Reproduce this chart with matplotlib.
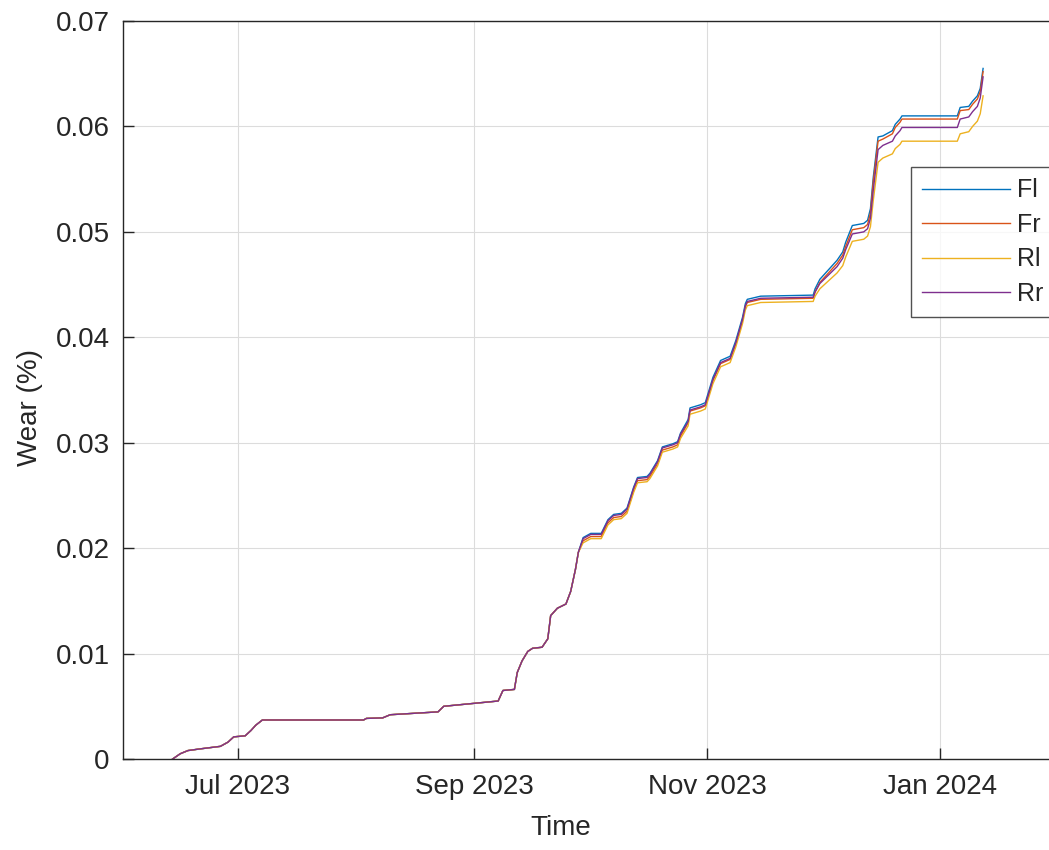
#!/usr/bin/python3

# wear vs time for the four positions (Fl, Fr, Rl, Rr), MATLAB-like look

import matplotlib
matplotlib.use('Agg')
import matplotlib.pyplot as plt
import matplotlib.dates as mdates
import matplotlib.ticker as mticker
import pandas as pd

# sample times (shared by all four series)
times = [
    '2023-06-14', '2023-06-16', '2023-06-18', '2023-06-21', '2023-06-26 12:00',
    '2023-06-28 12:00', '2023-06-30', '2023-07-03', '2023-07-04 12:00', '2023-07-05 18:00',
    '2023-07-07 12:00', '2023-08-03', '2023-08-03 18:00', '2023-08-08', '2023-08-10',
    '2023-08-22 12:00', '2023-08-24', '2023-09-07 06:00', '2023-09-08 12:00', '2023-09-11 12:00',
    '2023-09-12 06:00', '2023-09-13 12:00', '2023-09-15', '2023-09-16 06:00', '2023-09-18 18:00',
    '2023-09-20 06:00', '2023-09-21', '2023-09-22 18:00', '2023-09-25', '2023-09-26 06:00',
    '2023-09-27 12:00', '2023-09-28 06:00',
    # from here on the four curves separate a little
    '2023-09-29 12:00', '2023-10-01 12:00', '2023-10-04 06:00', '2023-10-06', '2023-10-07 12:00',
    '2023-10-09 12:00', '2023-10-11', '2023-10-12 18:00', '2023-10-13 18:00', '2023-10-16 06:00',
    '2023-10-17', '2023-10-19', '2023-10-20 06:00', '2023-10-23', '2023-10-24 06:00',
    '2023-10-25', '2023-10-27', '2023-10-27 12:00', '2023-10-30 06:00', '2023-10-31 12:00',
    '2023-11-01 18:00', '2023-11-02 12:00', '2023-11-04 12:00', '2023-11-07', '2023-11-08 12:00',
    '2023-11-10 06:00', '2023-11-11', '2023-11-11 12:00', '2023-11-15', '2023-11-28 18:00',
    '2023-11-29 06:00', '2023-11-30 12:00', '2023-12-05', '2023-12-06 12:00', '2023-12-07 06:00',
    '2023-12-09', '2023-12-12', '2023-12-13', '2023-12-13 18:00', '2023-12-14 12:00',
    '2023-12-15 18:00', '2023-12-17', '2023-12-19 12:00', '2023-12-20 06:00', '2023-12-21 12:00',
    '2023-12-22', '2024-01-05 12:00', '2024-01-06 06:00', '2024-01-08 12:00', '2024-01-09 12:00',
    '2024-01-10 18:00', '2024-01-11 12:00', '2024-01-12 06:00',
]

# common part (all four lie on top of each other)
early = [0.0, 0.0005, 0.0008, 0.00095, 0.0012, 0.0016, 0.0021, 0.0022, 0.0027, 0.0032,
         0.0037, 0.0037, 0.00385, 0.0039, 0.0042, 0.00447, 0.0050, 0.0055, 0.0065, 0.0066,
         0.0082, 0.0093, 0.0102, 0.0105, 0.0106, 0.0114, 0.0136, 0.0143, 0.0147, 0.0159,
         0.0180, 0.0196]

fl_late = [0.0210, 0.0214, 0.0214, 0.0227, 0.0232, 0.0233, 0.0238, 0.0258, 0.0267, 0.0268,
           0.0271, 0.0283, 0.0296, 0.0299, 0.0301, 0.0309, 0.0322, 0.0333, 0.0336, 0.0338,
           0.0353, 0.0362, 0.0378, 0.0382, 0.0397, 0.0419, 0.0432, 0.0436, 0.0439, 0.0440,
           0.0446, 0.0455, 0.0473, 0.0481, 0.0490, 0.0506, 0.0508, 0.0511, 0.0522, 0.0552,
           0.0590, 0.0591, 0.0596, 0.0602, 0.0607, 0.0610, 0.0610, 0.0618, 0.0619, 0.0624,
           0.0629, 0.0636, 0.0655]
fr_late = [0.0207, 0.0211, 0.0211, 0.0224, 0.0229, 0.0230, 0.0235, 0.0255, 0.0264, 0.0265,
           0.0268, 0.0280, 0.0293, 0.0296, 0.0298, 0.0306, 0.0319, 0.0330, 0.0333, 0.0335,
           0.0350, 0.0359, 0.0375, 0.0379, 0.0394, 0.0416, 0.0429, 0.0433, 0.0436, 0.0437,
           0.0443, 0.0452, 0.0470, 0.0478, 0.0486, 0.0502, 0.0504, 0.0507, 0.0518, 0.0548,
           0.0586, 0.0588, 0.0593, 0.0599, 0.0604, 0.0607, 0.0607, 0.0615, 0.0616, 0.0621,
           0.0626, 0.0633, 0.0652]
rl_late = [0.0205, 0.0209, 0.0209, 0.0222, 0.0227, 0.0228, 0.0233, 0.0253, 0.0262, 0.0263,
           0.0266, 0.0278, 0.0291, 0.0294, 0.0296, 0.0304, 0.0316, 0.0327, 0.0330, 0.0332,
           0.0347, 0.0356, 0.0372, 0.0376, 0.0391, 0.0413, 0.0426, 0.0430, 0.0433, 0.0434,
           0.0439, 0.0446, 0.0461, 0.0468, 0.0476, 0.0491, 0.0493, 0.0496, 0.0505, 0.0530,
           0.0566, 0.0570, 0.0574, 0.0579, 0.0583, 0.0586, 0.0586, 0.0593, 0.0595, 0.0600,
           0.0605, 0.0612, 0.0629]
rr_late = [0.0209, 0.0213, 0.0213, 0.0226, 0.0231, 0.0232, 0.0237, 0.0257, 0.0266, 0.0267,
           0.0270, 0.0282, 0.0295, 0.0298, 0.0300, 0.0308, 0.0320, 0.0331, 0.0334, 0.0336,
           0.0351, 0.0360, 0.0376, 0.0380, 0.0395, 0.0417, 0.0430, 0.0434, 0.0437, 0.0438,
           0.0443, 0.0451, 0.0467, 0.0475, 0.0483, 0.0498, 0.0500, 0.0503, 0.0513, 0.0540,
           0.0578, 0.0582, 0.0586, 0.0591, 0.0596, 0.0599, 0.0599, 0.0607, 0.0609, 0.0614,
           0.0619, 0.0627, 0.0647]

labels = ['Fl', 'Fr', 'Rl', 'Rr']
colors = ['#0072BD', '#D95319', '#EDB120', '#7E2F8E']
series = [early + fl_late, early + fr_late, early + rl_late, early + rr_late]

plt.rcParams['font.family'] = ['Liberation Sans', 'DejaVu Sans']
txtcol = '#262626'

t = pd.to_datetime(times, format='mixed')

fig = plt.figure(figsize=(10.49, 8.5), dpi=100)
ax = fig.add_axes([123/1049, 91/850, (1058.5-123)/1049, 738/850])

for lab, col, vals in zip(labels, colors, series):
    ax.plot(t, vals, color=col, lw=1.0, label=lab)

ax.set_xlim(pd.Timestamp('2023-06-01'), pd.Timestamp('2024-02-01'))
ax.set_ylim(0, 0.07)
ax.xaxis.set_major_locator(mdates.MonthLocator(bymonth=[1, 3, 5, 7, 9, 11]))
ax.xaxis.set_major_formatter(mdates.DateFormatter('%b %Y'))
ax.yaxis.set_major_locator(mticker.MultipleLocator(0.01))
ax.yaxis.set_major_formatter(mticker.FormatStrFormatter('%g'))

ax.grid(True, color='#dcdcdc', lw=0.8)
ax.set_axisbelow(True)
ax.tick_params(direction='in', length=8, width=1.0, colors=txtcol, labelsize=20)
ax.tick_params(axis='x', pad=11)
ax.tick_params(axis='y', pad=9.5)
for s in ax.spines.values():
    s.set_color(txtcol)
    s.set_linewidth(1.0)

fig.text(30/1049, 1-408/850, 'Wear (%)', rotation=90, ha='center', va='center',
         fontsize=20, color=txtcol)
fig.text(561/1049, 1-828/850, 'Time', ha='center', va='center', fontsize=20, color=txtcol)

leg = ax.legend(loc='upper left', bbox_to_anchor=(911/1049, 1-167/850),
                bbox_transform=fig.transFigure, fontsize=18, frameon=True,
                fancybox=False, borderaxespad=0, handlelength=3.5,
                handletextpad=0.3, labelspacing=0.42, borderpad=0.45)
leg.get_frame().set_edgecolor(txtcol)
leg.get_frame().set_linewidth(1.0)
for tx in leg.get_texts():
    tx.set_color(txtcol)

plt.savefig('out.png', dpi=100)
